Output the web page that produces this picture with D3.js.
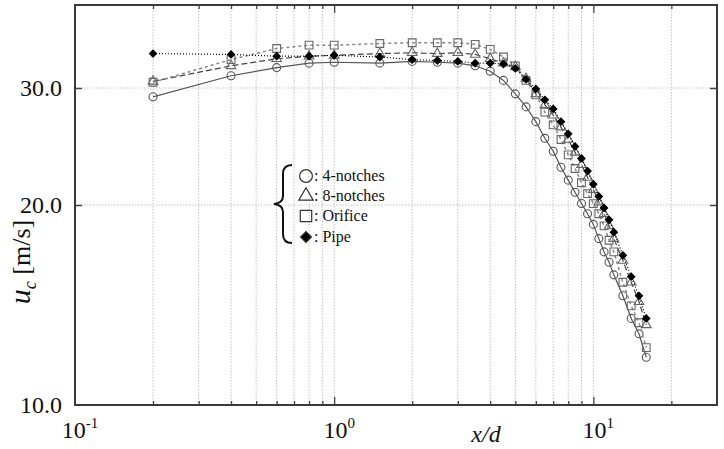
<!DOCTYPE html>
<html>
<head>
<meta charset="utf-8">
<script src="https://cdn.jsdelivr.net/npm/d3@7"></script>
<style>
  body { margin: 0; background: #fff; }
  svg { display: block; font-family: "Liberation Serif", "DejaVu Serif", serif; }
</style>
</head>
<body>
<svg id="chart" width="724" height="449"></svg>
<script>
// x/d positions and centreline velocity u_c [m/s] per nozzle
const xd = [0.2, 0.4, 0.6, 0.8, 1, 1.5, 2, 2.5, 3, 3.5, 4, 4.5, 5, 5.5, 6, 6.5, 7, 7.5, 8, 8.5, 9, 9.5, 10, 10.5, 11, 11.5, 12, 13, 14, 15, 16];
const notches4 = [29.1, 31.3, 32.2, 32.7, 32.8, 32.7, 32.9, 32.8, 32.7, 32.4, 31.8, 30.8, 29.4, 28.1, 26.7, 25.2, 24.1, 22.8, 21.8, 20.9, 20.1, 19.4, 18.7, 17.8, 17.0, 16.4, 15.7, 14.6, 13.5, 12.8, 11.8];
const notches8 = [30.7, 32.4, 33.2, 33.5, 33.6, 33.8, 33.9, 33.8, 33.9, 33.7, 33.2, 32.7, 32.3, 31.0, 29.4, 28.3, 27.3, 26.2, 25.1, 24.0, 23.0, 22.0, 21.1, 20.2, 19.4, 18.6, 17.8, 16.5, 15.3, 14.3, 13.2];
const orifice = [30.6, 33.1, 34.4, 34.8, 34.8, 35.0, 35.1, 35.1, 35.1, 34.9, 34.3, 33.4, 32.4, 30.8, 29.3, 27.6, 26.4, 25.1, 23.8, 22.7, 21.6, 20.8, 20.1, 19.4, 18.6, 17.7, 17.0, 15.3, 14.1, 13.3, 12.2];
const pipe = [33.8, 33.7, 33.5, 33.5, 33.6, 33.4, 33.1, 33.0, 32.9, 32.7, 32.7, 32.6, 32.1, 30.9, 29.9, 28.8, 27.9, 26.7, 25.6, 24.5, 23.5, 22.5, 21.5, 20.6, 19.8, 19.0, 18.2, 16.8, 15.6, 14.6, 13.5];

const xMajor = [0.1, 1, 10];
const xMajorExp = ["-1", "0", "1"];
const xMinor = [0.2, 0.3, 0.4, 0.5, 0.6, 0.7, 0.8, 0.9, 2, 3, 4, 5, 6, 7, 8, 9, 20];
const yTicks = [10, 20, 30];

const series = [
  { name: "4-notches", values: notches4, symbol: d3.symbolCircle, size: 50, rot: 0, fill: "none", stroke: "#555", dash: null, lineColor: "#555", lineWidth: 1.2 },
  { name: "8-notches", values: notches8, symbol: d3.symbolTriangle, size: 40, rot: 0, fill: "none", stroke: "#666", dash: "6,3", lineColor: "#444", lineWidth: 1.2 },
  { name: "Orifice", values: orifice, symbol: d3.symbolSquare, size: 60, rot: 0, fill: "none", stroke: "#666", dash: "3,3", lineColor: "#888", lineWidth: 1.5 },
  { name: "Pipe", values: pipe, symbol: d3.symbolSquare, size: 26, rot: 45, fill: "#000", stroke: "#000", dash: "1,2", lineColor: "#000", lineWidth: 1.2 }
];

const margin = { top: 5, right: 7, bottom: 44, left: 75 };
const width = 724 - margin.left - margin.right;
const height = 449 - margin.top - margin.bottom;

const svg = d3.select("#chart");
const g = svg.append("g").attr("transform", `translate(${margin.left},${margin.top})`);

const x = d3.scaleLog().domain([0.1, 30]).range([0, width]);
const y = d3.scaleLog().domain([10, 40]).range([height, 0]);

// grid
g.append("g").selectAll("line")
  .data(xMinor.concat([1, 10]))
  .join("line")
  .attr("x1", d => x(d)).attr("x2", d => x(d))
  .attr("y1", 0).attr("y2", height)
  .attr("stroke", "#b5b5b5").attr("stroke-width", 0.8)
  .attr("stroke-dasharray", "1.5,1.5");

g.append("g").selectAll("line")
  .data([20, 30])
  .join("line")
  .attr("x1", 0).attr("x2", width)
  .attr("y1", d => y(d)).attr("y2", d => y(d))
  .attr("stroke", "#b5b5b5").attr("stroke-width", 0.8)
  .attr("stroke-dasharray", "1.5,1.5");

// ticks (inward)
function ticksX(vals, len) {
  g.append("g").attr("transform", `translate(0,${height})`)
    .call(d3.axisBottom(x).tickValues(vals).tickSize(-len).tickFormat(""))
    .call(a => a.select(".domain").remove())
    .selectAll("line").attr("stroke", "#444").attr("stroke-width", 1.3);
  g.append("g")
    .call(d3.axisTop(x).tickValues(vals).tickSize(-len).tickFormat(""))
    .call(a => a.select(".domain").remove())
    .selectAll("line").attr("stroke", "#444").attr("stroke-width", 1.3);
}
ticksX(xMinor, 4);
ticksX([1, 10], 8);

g.append("g")
  .call(d3.axisLeft(y).tickValues([20, 30]).tickSize(-7).tickFormat(""))
  .call(a => a.select(".domain").remove())
  .selectAll("line").attr("stroke", "#444").attr("stroke-width", 1.5);
g.append("g").attr("transform", `translate(${width},0)`)
  .call(d3.axisRight(y).tickValues([20, 30]).tickSize(-7).tickFormat(""))
  .call(a => a.select(".domain").remove())
  .selectAll("line").attr("stroke", "#444").attr("stroke-width", 1.5);

// frame
g.append("rect")
  .attr("width", width).attr("height", height)
  .attr("fill", "none").attr("stroke", "#3a3a3a").attr("stroke-width", 2);

// tick labels
g.append("g").selectAll("text")
  .data(yTicks)
  .join("text")
  .attr("x", -13).attr("y", d => y(d))
  .attr("dy", "0.35em")
  .attr("text-anchor", "end")
  .style("font-size", "24px")
  .attr("fill", "#111")
  .text(d => d.toFixed(1));

const xl = g.append("g").selectAll("text")
  .data(xMajor)
  .join("text")
  .attr("x", d => x(d) + 5).attr("y", height + 33)
  .attr("text-anchor", "middle")
  .style("font-size", "24px")
  .attr("fill", "#111");
xl.append("tspan").text("10");
xl.append("tspan").attr("dy", -10).style("font-size", "15px").text((d, i) => xMajorExp[i]);

// axis titles
svg.append("text")
  .attr("x", 486).attr("y", 442)
  .attr("text-anchor", "middle")
  .style("font-size", "24px").style("font-style", "italic")
  .attr("fill", "#111")
  .text("x/d");

const yt = svg.append("text")
  .attr("transform", "translate(30,262) rotate(-90)")
  .attr("text-anchor", "middle")
  .style("font-size", "26px")
  .attr("fill", "#111");
yt.append("tspan").style("font-style", "italic").style("font-size", "30px").text("u");
yt.append("tspan").style("font-style", "italic").style("font-size", "18px").attr("dy", 6).text("c");
yt.append("tspan").attr("dy", -6).text(" [m/s]");

// lines + markers
const line = d3.line().x(d => x(d[0])).y(d => y(d[1]));
series.forEach(s => {
  const pts = xd.map((v, i) => [v, s.values[i]]);
  g.append("path")
    .datum(pts)
    .attr("d", line)
    .attr("fill", "none")
    .attr("stroke", s.lineColor)
    .attr("stroke-width", s.lineWidth)
    .attr("stroke-dasharray", s.dash);
  g.append("g").selectAll("path")
    .data(pts)
    .join("path")
    .attr("transform", d => `translate(${x(d[0])},${y(d[1])}) rotate(${s.rot})`)
    .attr("d", d3.symbol().type(s.symbol).size(s.size))
    .attr("fill", s.fill)
    .attr("stroke", s.stroke)
    .attr("stroke-width", 1.1);
});

// legend
const lg = svg.append("g");
lg.append("path")
  .attr("d", "M292,165 Q283,165 283,174 L283,196 Q283,203 274,204 Q283,205 283,212 L283,234 Q283,243 292,243")
  .attr("fill", "none").attr("stroke", "#111").attr("stroke-width", 2);

const rowY = [176, 196, 216, 237];
const legSymbols = [
  { type: d3.symbolCircle, size: 130, rot: 0, fill: "none" },
  { type: d3.symbolTriangle, size: 90, rot: 0, fill: "none" },
  { type: d3.symbolSquare, size: 130, rot: 0, fill: "none" },
  { type: d3.symbolSquare, size: 60, rot: 45, fill: "#000" }
];
series.forEach((s, i) => {
  lg.append("path")
    .attr("transform", `translate(306,${rowY[i]}) rotate(${legSymbols[i].rot})`)
    .attr("d", d3.symbol().type(legSymbols[i].type).size(legSymbols[i].size))
    .attr("fill", legSymbols[i].fill)
    .attr("stroke", "#333").attr("stroke-width", 1.2);
  lg.append("text")
    .attr("x", 314).attr("y", rowY[i] + 5)
    .style("font-size", "16px")
    .attr("fill", "#111")
    .text(": " + s.name);
});
</script>
</body>
</html>
